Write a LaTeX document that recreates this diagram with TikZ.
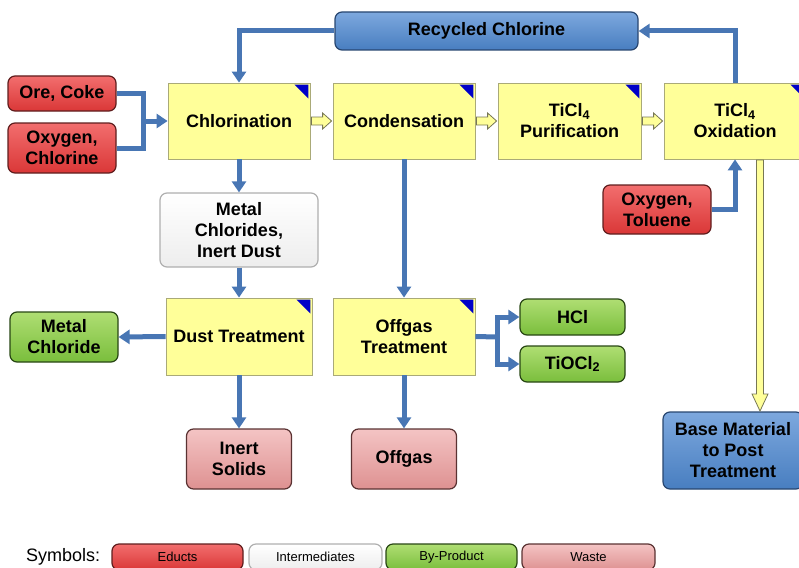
\documentclass[tikz,border=0pt]{standalone}
\usepackage{fontspec}
\setmainfont{Liberation Sans}
\usetikzlibrary{arrows.meta,calc}
\definecolor{procfill}{RGB}{255,255,153}
\definecolor{procdraw}{RGB}{170,170,120}
\definecolor{arrblue}{RGB}{72,118,180}
\definecolor{tricol}{RGB}{0,0,200}
\definecolor{redtop}{RGB}{242,110,110}
\definecolor{redbot}{RGB}{218,55,55}
\definecolor{reddraw}{RGB}{95,30,30}
\definecolor{grntop}{RGB}{175,222,115}
\definecolor{grnbot}{RGB}{122,190,60}
\definecolor{grndraw}{RGB}{40,70,20}
\definecolor{pnktop}{RGB}{244,196,196}
\definecolor{pnkbot}{RGB}{222,145,145}
\definecolor{pnkdraw}{RGB}{90,50,50}
\definecolor{blutop}{RGB}{125,168,222}
\definecolor{blubot}{RGB}{72,126,192}
\definecolor{bludraw}{RGB}{40,70,112}
\definecolor{whtdraw}{RGB}{175,175,175}
\newcommand\cornertri[1]{\fill[tricol] ($(#1.north east)+(-16,2)$) -- ($(#1.north east)+(-2,2)$) -- ($(#1.north east)+(-2,16)$) -- cycle;}
% hollow horizontal block arrow from node #1 (east) to node #2 (west)
\newcommand\hblock[2]{\draw[yblock] ($(#1.east)+(1,-4)$) -- ($(#2.west)+(-10,-4)$) -- ($(#2.west)+(-10,-8)$) -- ($(#2.west)+(-1,0)$) -- ($(#2.west)+(-10,8)$) -- ($(#2.west)+(-10,4)$) -- ($(#1.east)+(1,4)$) -- cycle;}
\begin{document}
\begin{tikzpicture}[x=1pt,y=-1pt,
  lbl/.style={font=\fontsize{18}{21}\selectfont\bfseries, align=center, inner sep=0pt, text=black},
  proc/.style={lbl, rectangle, fill=procfill, draw=procdraw, line width=0.8pt, minimum width=142pt, minimum height=76pt},
  rbox/.style={lbl, rectangle, rounded corners=7pt, line width=1.2pt},
  educt/.style={rbox, top color=redtop, bottom color=redbot, draw=reddraw},
  byprod/.style={rbox, top color=grntop, bottom color=grnbot, draw=grndraw},
  waste/.style={rbox, top color=pnktop, bottom color=pnkbot, draw=pnkdraw},
  prod/.style={rbox, top color=blutop, bottom color=blubot, draw=bludraw},
  inter/.style={rbox, top color=white, bottom color=white!93!black, draw=whtdraw},
  leg/.style={font=\fontsize{13}{14}\selectfont, minimum width=131pt, minimum height=26pt},
  bline/.style={draw=arrblue, line width=5pt},
  barrow/.style={bline, -{Triangle[width=14pt,length=11pt]}},
  yblock/.style={draw=procdraw!70!black, fill=procfill, line width=0.8pt, line join=miter}
]
\useasboundingbox (0,0) rectangle (799,567);
% nodes
\node[prod, minimum width=303pt, minimum height=38pt] (rc) at (486.5,31) {Recycled Chlorine};
\node[educt, minimum width=108pt, minimum height=35pt] (ore) at (62,93.5) {Ore, Coke};
\node[educt, minimum width=108pt, minimum height=50pt] (oxc) at (62,148) {Oxygen,\\Chlorine};
\node[proc] (chl) at (239,121) {Chlorination};
\node[proc] (con) at (404,121) {Condensation};
\node[proc, minimum width=143pt] (pur) at (569.5,121) {TiCl\textsubscript{4}\\Purification};
\node[proc] (oxi) at (735,121) {TiCl\textsubscript{4}\\Oxidation};
\node[educt, minimum width=108pt, minimum height=49pt] (oxt) at (657,209.5) {Oxygen,\\Toluene};
\node[inter, minimum width=158pt, minimum height=74pt] (mcd) at (239,230) {Metal\\Chlorides,\\Inert Dust};
\node[proc, minimum width=146pt, minimum height=77pt] (dust) at (239,336.5) {Dust Treatment};
\node[proc, minimum height=77pt] (off) at (404,336.5) {Offgas\\Treatment};
\node[byprod, minimum width=105pt, minimum height=36pt] (hcl) at (572.5,317) {HCl};
\node[byprod, minimum width=105pt, minimum height=36pt] (tio) at (572.5,364) {TiOCl\textsubscript{2}};
\node[byprod, minimum width=108pt, minimum height=50pt] (mc) at (64,337) {Metal\\Chloride};
\node[waste, minimum width=105pt, minimum height=60pt] (inert) at (239,459) {Inert\\Solids};
\node[waste, minimum width=105pt, minimum height=60pt] (offg) at (404,459) {Offgas};
\node[prod, minimum width=140pt, minimum height=77pt] (base) at (733,450.5) {Base Material\\to Post\\Treatment};
% corner triangles
\cornertri{chl}\cornertri{con}\cornertri{pur}\cornertri{oxi}\cornertri{dust}\cornertri{off}
% legend
\node[anchor=west, inner sep=0pt, font=\fontsize{18}{20}\selectfont] (sym) at (26,557) {Symbols:};
\node[educt, leg] (le) at (177.5,557) {Educts};
\node[inter, leg, minimum width=133pt] (li) at (315.5,557) {Intermediates};
\node[byprod, leg] (lb) at (451.5,557) {By-Product};
\node[waste, leg, minimum width=133pt] (lw) at (588.5,557) {Waste};
% coordinates
\coordinate (j1) at (143,121);
\coordinate (j2) at (497,337);
\coordinate (ya) at (760,160);
\coordinate (yb) at (760,411);
% blue connectors
\draw[barrow] (oxi.north) |- (rc.east);
\draw[barrow] (rc.west) -| (chl.north);
\draw[bline] (ore.east) -| (j1);
\draw[bline] (oxc.east) -| (j1);
\draw[barrow] (j1) -- (chl.west);
\draw[barrow] (chl.south) -- (mcd.north);
\draw[barrow] (mcd.south) -- (dust.north);
\draw[barrow] (dust.west) -- (mc.east);
\draw[barrow] (dust.south) -- (inert.north);
\draw[barrow] (con.south) -- (off.north);
\draw[bline] (off.east) -- (j2);
\draw[barrow] (j2) |- (hcl.west);
\draw[barrow] (j2) |- (tio.west);
\draw[barrow] (off.south) -- (offg.north);
\draw[barrow] (oxt.east) -| (oxi.south);
% hollow yellow arrows
\hblock{chl}{con}
\hblock{con}{pur}
\hblock{pur}{oxi}
\draw[yblock] ($(ya)+(-3.5,0)$) -- ($(yb)+(-3.5,-17)$) -- ($(yb)+(-8,-17)$) -- (yb) -- ($(yb)+(8,-17)$) -- ($(yb)+(3.5,-17)$) -- ($(ya)+(3.5,0)$) -- cycle;
\end{tikzpicture}
\end{document}
